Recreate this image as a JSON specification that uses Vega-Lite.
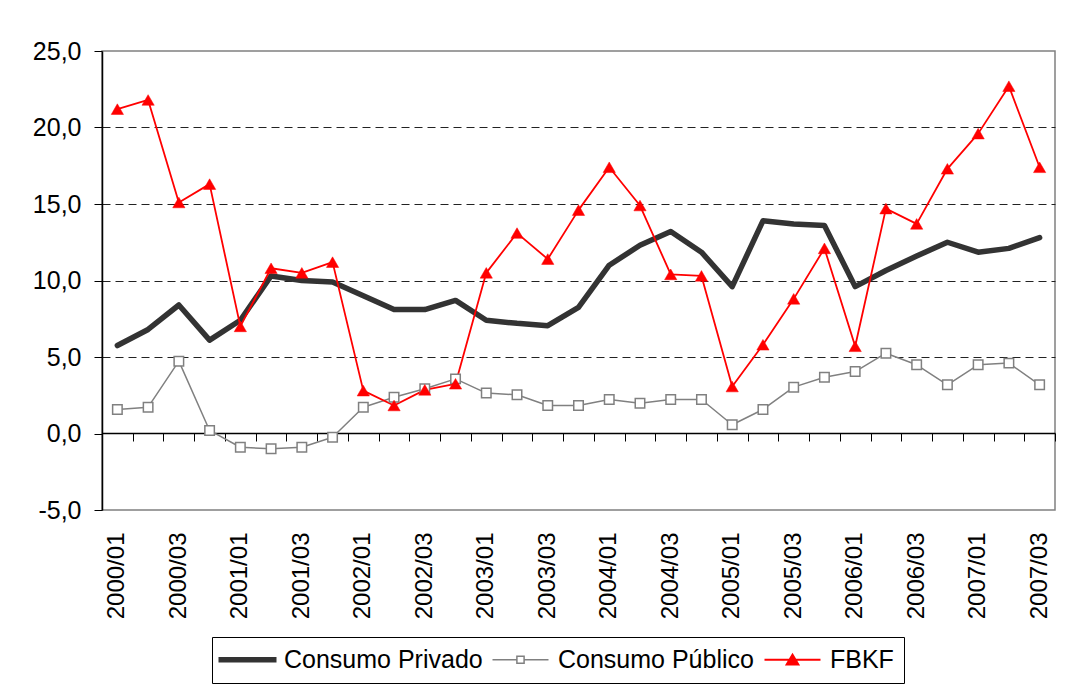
{
  "$schema": "https://vega.github.io/schema/vega-lite/v6.json",
  "width": 953,
  "height": 459,
  "autosize": {"type": "none"},
  "padding": {"left": 102, "top": 51, "right": 28, "bottom": 178},
  "background": "white",
  "config": {
    "view": {"stroke": "#808080", "strokeWidth": 1.5},
    "font": "Liberation Sans",
    "axis": {"labelFont": "Liberation Sans", "labelColor": "black", "title": null}
  },
  "datasets": {
    "d": [
      {"q": "2000/01", "s": "Consumo Privado", "v": 5.75},
      {"q": "2000/02", "s": "Consumo Privado", "v": 6.8},
      {"q": "2000/03", "s": "Consumo Privado", "v": 8.4},
      {"q": "2000/04", "s": "Consumo Privado", "v": 6.1},
      {"q": "2001/01", "s": "Consumo Privado", "v": 7.4},
      {"q": "2001/02", "s": "Consumo Privado", "v": 10.3},
      {"q": "2001/03", "s": "Consumo Privado", "v": 10.0},
      {"q": "2001/04", "s": "Consumo Privado", "v": 9.9},
      {"q": "2002/01", "s": "Consumo Privado", "v": 9.0},
      {"q": "2002/02", "s": "Consumo Privado", "v": 8.1},
      {"q": "2002/03", "s": "Consumo Privado", "v": 8.1},
      {"q": "2002/04", "s": "Consumo Privado", "v": 8.7},
      {"q": "2003/01", "s": "Consumo Privado", "v": 7.4},
      {"q": "2003/02", "s": "Consumo Privado", "v": 7.2},
      {"q": "2003/03", "s": "Consumo Privado", "v": 7.05},
      {"q": "2003/04", "s": "Consumo Privado", "v": 8.25},
      {"q": "2004/01", "s": "Consumo Privado", "v": 11.0},
      {"q": "2004/02", "s": "Consumo Privado", "v": 12.3},
      {"q": "2004/03", "s": "Consumo Privado", "v": 13.2},
      {"q": "2004/04", "s": "Consumo Privado", "v": 11.85},
      {"q": "2005/01", "s": "Consumo Privado", "v": 9.6},
      {"q": "2005/02", "s": "Consumo Privado", "v": 13.9},
      {"q": "2005/03", "s": "Consumo Privado", "v": 13.7},
      {"q": "2005/04", "s": "Consumo Privado", "v": 13.6},
      {"q": "2006/01", "s": "Consumo Privado", "v": 9.6},
      {"q": "2006/02", "s": "Consumo Privado", "v": 10.65},
      {"q": "2006/03", "s": "Consumo Privado", "v": 11.6},
      {"q": "2006/04", "s": "Consumo Privado", "v": 12.5},
      {"q": "2007/01", "s": "Consumo Privado", "v": 11.85},
      {"q": "2007/02", "s": "Consumo Privado", "v": 12.1},
      {"q": "2007/03", "s": "Consumo Privado", "v": 12.8},
      {"q": "2000/01", "s": "Consumo Público", "v": 1.57},
      {"q": "2000/02", "s": "Consumo Público", "v": 1.72},
      {"q": "2000/03", "s": "Consumo Público", "v": 4.73},
      {"q": "2000/04", "s": "Consumo Público", "v": 0.2},
      {"q": "2001/01", "s": "Consumo Público", "v": -0.9},
      {"q": "2001/02", "s": "Consumo Público", "v": -1.0},
      {"q": "2001/03", "s": "Consumo Público", "v": -0.9},
      {"q": "2001/04", "s": "Consumo Público", "v": -0.24},
      {"q": "2002/01", "s": "Consumo Público", "v": 1.72},
      {"q": "2002/02", "s": "Consumo Público", "v": 2.37},
      {"q": "2002/03", "s": "Consumo Público", "v": 2.92},
      {"q": "2002/04", "s": "Consumo Público", "v": 3.57},
      {"q": "2003/01", "s": "Consumo Público", "v": 2.64},
      {"q": "2003/02", "s": "Consumo Público", "v": 2.53},
      {"q": "2003/03", "s": "Consumo Público", "v": 1.83},
      {"q": "2003/04", "s": "Consumo Público", "v": 1.83},
      {"q": "2004/01", "s": "Consumo Público", "v": 2.22},
      {"q": "2004/02", "s": "Consumo Público", "v": 1.98},
      {"q": "2004/03", "s": "Consumo Público", "v": 2.22},
      {"q": "2004/04", "s": "Consumo Público", "v": 2.22},
      {"q": "2005/01", "s": "Consumo Público", "v": 0.57},
      {"q": "2005/02", "s": "Consumo Público", "v": 1.57},
      {"q": "2005/03", "s": "Consumo Público", "v": 3.03},
      {"q": "2005/04", "s": "Consumo Público", "v": 3.68},
      {"q": "2006/01", "s": "Consumo Público", "v": 4.05},
      {"q": "2006/02", "s": "Consumo Público", "v": 5.25},
      {"q": "2006/03", "s": "Consumo Público", "v": 4.49},
      {"q": "2006/04", "s": "Consumo Público", "v": 3.18},
      {"q": "2007/01", "s": "Consumo Público", "v": 4.49},
      {"q": "2007/02", "s": "Consumo Público", "v": 4.6},
      {"q": "2007/03", "s": "Consumo Público", "v": 3.18},
      {"q": "2000/01", "s": "FBKF", "v": 21.2},
      {"q": "2000/02", "s": "FBKF", "v": 21.8},
      {"q": "2000/03", "s": "FBKF", "v": 15.1},
      {"q": "2000/04", "s": "FBKF", "v": 16.3},
      {"q": "2001/01", "s": "FBKF", "v": 7.0},
      {"q": "2001/02", "s": "FBKF", "v": 10.8},
      {"q": "2001/03", "s": "FBKF", "v": 10.5},
      {"q": "2001/04", "s": "FBKF", "v": 11.2},
      {"q": "2002/01", "s": "FBKF", "v": 2.8},
      {"q": "2002/02", "s": "FBKF", "v": 1.83},
      {"q": "2002/03", "s": "FBKF", "v": 2.85},
      {"q": "2002/04", "s": "FBKF", "v": 3.25},
      {"q": "2003/01", "s": "FBKF", "v": 10.5},
      {"q": "2003/02", "s": "FBKF", "v": 13.1},
      {"q": "2003/03", "s": "FBKF", "v": 11.4},
      {"q": "2003/04", "s": "FBKF", "v": 14.6},
      {"q": "2004/01", "s": "FBKF", "v": 17.4},
      {"q": "2004/02", "s": "FBKF", "v": 14.9},
      {"q": "2004/03", "s": "FBKF", "v": 10.4},
      {"q": "2004/04", "s": "FBKF", "v": 10.3},
      {"q": "2005/01", "s": "FBKF", "v": 3.07},
      {"q": "2005/02", "s": "FBKF", "v": 5.8},
      {"q": "2005/03", "s": "FBKF", "v": 8.8},
      {"q": "2005/04", "s": "FBKF", "v": 12.1},
      {"q": "2006/01", "s": "FBKF", "v": 5.7},
      {"q": "2006/02", "s": "FBKF", "v": 14.7},
      {"q": "2006/03", "s": "FBKF", "v": 13.7},
      {"q": "2006/04", "s": "FBKF", "v": 17.3},
      {"q": "2007/01", "s": "FBKF", "v": 19.6},
      {"q": "2007/02", "s": "FBKF", "v": 22.7},
      {"q": "2007/03", "s": "FBKF", "v": 17.4}
    ]
  },
  "data": {"name": "d"},
  "resolve": {"axis": {"x": "independent"}},
  "encoding": {
    "y": {
      "field": "v", "type": "quantitative",
      "scale": {"domain": [-5, 25], "nice": false, "zero": false},
      "axis": {
        "values": [-5, 0, 5, 10, 15, 20, 25],
        "labelExpr": "replace(replace(format(datum.value, '.1f'), '.', ','), '\u2212', '-')",
        "labelFontSize": 25, "labelPadding": 13,
        "tickSize": 8, "tickColor": "black", "tickWidth": 1,
        "domainColor": "black", "domainWidth": 1.5,
        "grid": true, "gridColor": "#222222", "gridWidth": 1, "gridDash": [8, 5],
        "gridOpacity": {"condition": {"test": "datum.value > 0 && datum.value < 25", "value": 1}, "value": 0},
        "title": null
      }
    }
  },
  "layer": [
    {
      "mark": {"type": "line", "strokeCap": "round", "strokeJoin": "round"},
      "encoding": {
        "x": {
          "field": "q", "type": "ordinal", "sort": null,
          "scale": {"type": "band", "paddingInner": 0, "paddingOuter": 0},
          "axis": {
            "orient": "bottom",
            "values": ["2000/01","2000/03","2001/01","2001/03","2002/01","2002/03","2003/01","2003/03","2004/01","2004/03","2005/01","2005/03","2006/01","2006/03","2007/01","2007/03"],
            "labelAngle": -90, "labelAlign": "right", "labelBaseline": "middle",
            "labelFontSize": 24, "labelPadding": 22, "labelOverlap": false,
            "ticks": false, "tickSize": 0, "domain": false, "grid": false, "title": null
          }
        },
        "color": {
          "field": "s", "type": "nominal",
          "scale": {"domain": ["Consumo Privado", "Consumo Público", "FBKF"], "range": ["#333333", "#808080", "#FF0000"]},
          "legend": {
            "title": null, "orient": "none", "legendX": 110, "legendY": 586,
            "direction": "horizontal", "columns": 3,
            "strokeColor": "black", "fillColor": "white", "padding": 10,
            "labelFont": "Liberation Sans", "labelFontSize": 25, "labelColor": "black", "labelLimit": 400,
            "symbolSize": 64, "labelOffset": 37, "columnPadding": 6,
            "encode": {
              "symbols": {
                "update": {
                  "shape": {"signal": "datum.value === 'Consumo Privado' ? 'M-4,0L10.5,0' : datum.value === 'Consumo Público' ? 'M-4,0L2.1,0M2.1,-0.9L3.9,-0.9L3.9,0.9L2.1,0.9ZM3.9,0L10,0' : 'M-4,0L10,0M3,-1.3L4.5,1.2L1.5,1.2Z'"},
                  "strokeWidth": {"signal": "datum.value === 'Consumo Privado' ? 4.5 : 1.5"},
                  "stroke": {"signal": "datum.value === 'Consumo Privado' ? '#333333' : datum.value === 'Consumo Público' ? '#808080' : '#FF0000'"},
                  "fill": {"signal": "datum.value === 'Consumo Público' ? 'white' : '#FF0000'"},
                  "size": {"value": 64},
                  "opacity": {"value": 1},
                  "fillOpacity": {"value": 1},
                  "strokeOpacity": {"value": 1}
                }
              }
            }
          }
        },
        "strokeWidth": {
          "field": "s", "type": "nominal",
          "scale": {"type": "ordinal", "domain": ["Consumo Privado", "Consumo Público", "FBKF"], "range": [5.5, 1.5, 1.8]},
          "legend": null
        }
      }
    },
    {
      "transform": [{"filter": "datum.s === 'Consumo Público'"}],
      "mark": {"type": "point", "shape": "square", "size": 90, "filled": true, "fill": "white", "stroke": "#808080", "strokeWidth": 1.5, "opacity": 1},
      "encoding": {
        "x": {
          "field": "q", "type": "ordinal", "sort": null,
          "scale": {"type": "band", "paddingInner": 0, "paddingOuter": 0},
          "axis": {
            "orient": "bottom", "offset": -77, "labels": false,
            "ticks": true, "tickBand": "extent", "tickSize": 8, "tickColor": "black", "tickWidth": 1,
            "domain": true, "domainColor": "black", "domainWidth": 1.5, "grid": false, "title": null
          }
        }
      }
    },
    {
      "transform": [{"filter": "datum.s === 'FBKF'"}],
      "mark": {"type": "point", "shape": "triangle-up", "size": 150, "filled": true, "fill": "#FF0000", "stroke": "#FF0000", "strokeWidth": 0.5, "opacity": 1},
      "encoding": {
        "x": {
          "field": "q", "type": "ordinal", "sort": null,
          "scale": {"type": "band", "paddingInner": 0, "paddingOuter": 0},
          "axis": null
        }
      }
    }
  ]
}
